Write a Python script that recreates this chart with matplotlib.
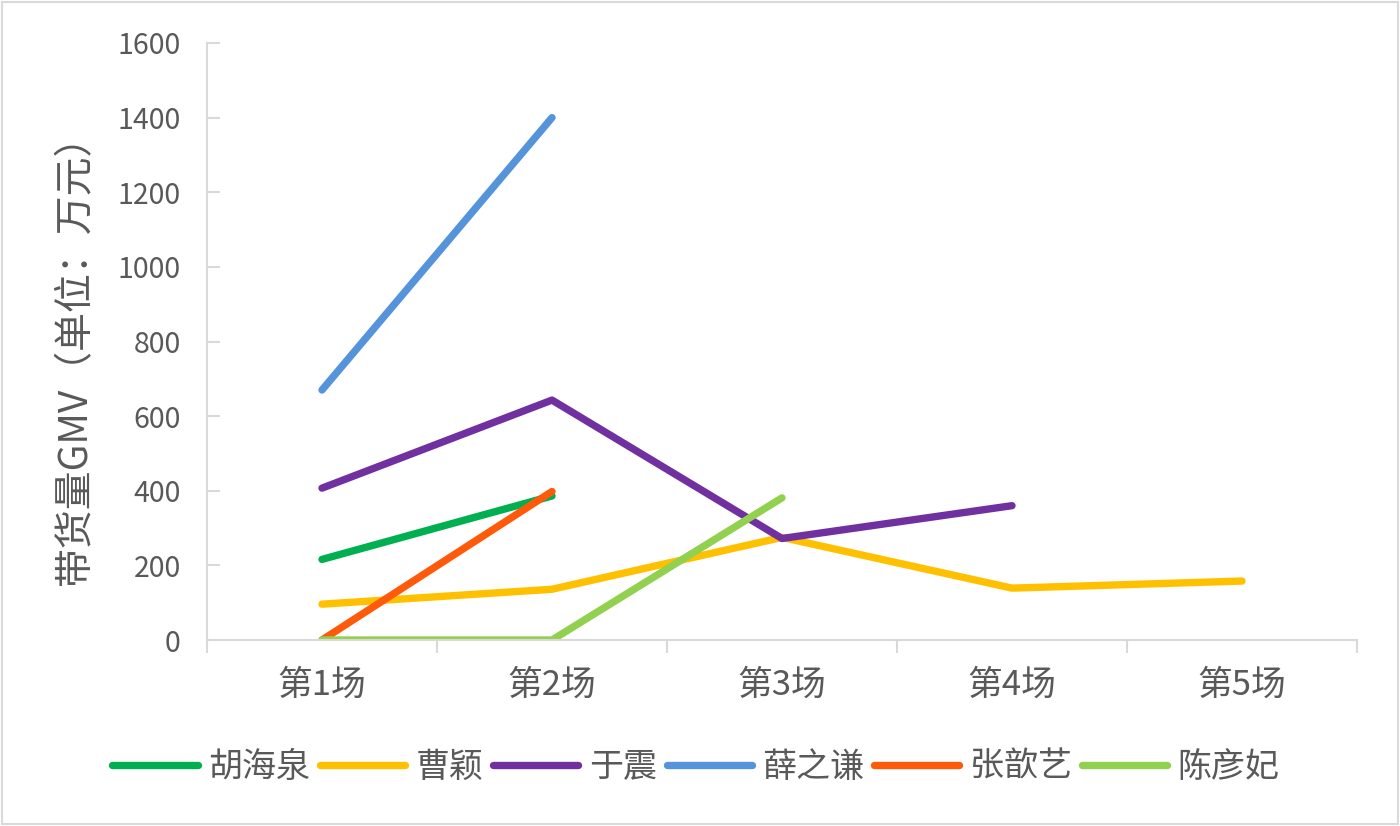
import matplotlib
matplotlib.use('Agg')
import matplotlib.pyplot as plt
from matplotlib.patches import Rectangle

plt.rcParams['font.family'] = ['Noto Sans CJK SC', 'DejaVu Sans']

# data
sessions = ['第1场', '第2场', '第3场', '第4场', '第5场']
hu_haiquan = [216, 386]
cao_ying = [96, 136, 275, 139, 158]
yu_zhen = [407, 643, 272, 360]
xue_zhiqian = [670, 1400]
zhang_xinyi = [0, 398]
chen_yanfei = [0, 0, 381]

series = [
    ('胡海泉', hu_haiquan, '#00B050'),
    ('曹颖', cao_ying, '#FFC000'),
    ('于震', yu_zhen, '#7030A0'),
    ('薛之谦', xue_zhiqian, '#5594DA'),
    ('张歆艺', zhang_xinyi, '#FF5A0A'),
    ('陈彦妃', chen_yanfei, '#92D050'),
]

text_color = '#595959'
axis_color = '#D9D9D9'

fig = plt.figure(figsize=(14, 8.26), dpi=100)
ax = fig.add_axes([207 / 1400, 1 - 640 / 826, 1150 / 1400, 597 / 826])

for name, values, color in series:
    ax.plot(range(len(values)), values, color=color, linewidth=5.3,
            solid_capstyle='round', label=name)

ax.set_xlim(-0.5, len(sessions) - 0.5)
ax.set_ylim(0, 1600)
ax.set_yticks(range(0, 1601, 200))
ax.set_xticks(range(len(sessions)))
ax.set_xticklabels(sessions)
ax.set_xticks([i - 0.5 for i in range(len(sessions) + 1)], minor=True)

for side in ['top', 'right']:
    ax.spines[side].set_visible(False)
for side in ['left', 'bottom']:
    ax.spines[side].set_color(axis_color)
    ax.spines[side].set_linewidth(1.5)

ax.tick_params(axis='x', which='major', length=0, pad=20, labelsize=25, labelcolor=text_color)
ax.tick_params(axis='x', which='minor', length=9, width=1.5, color=axis_color, direction='out')
ax.tick_params(axis='y', which='major', length=9, width=1.5, color=axis_color, direction='in',
               pad=19, labelsize=20.5, labelcolor=text_color)

fig.text(75 / 1400, 1 - 350 / 826, '带货量GMV（单位：万元）', rotation=90,
         ha='center', va='center', fontsize=28, color=text_color)

leg = fig.legend(loc='center', bbox_to_anchor=(0.497, 1 - 767 / 826), ncol=6, frameon=False,
                 fontsize=24.5, handlelength=2.5, handletextpad=0.3, columnspacing=0.3)
for t in leg.get_texts():
    t.set_color(text_color)

fig.add_artist(Rectangle((2 / 1400, 2 / 826), 1396 / 1400, 822 / 826, transform=fig.transFigure,
                         fill=False, edgecolor=axis_color, linewidth=1.5))

fig.savefig('out.png', dpi=100)
